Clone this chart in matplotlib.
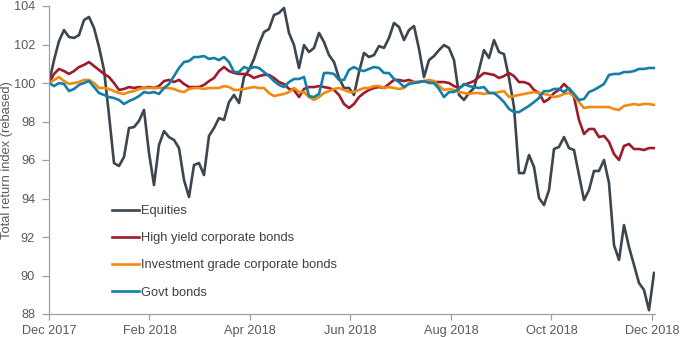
import numpy as np
import matplotlib
matplotlib.use("Agg")
import matplotlib.pyplot as plt

plt.rcParams['font.family'] = ['Liberation Sans', 'DejaVu Sans']

# total return index, rebased to 100 (Dec 2017 - Dec 2018)
equities = [100.0, 101.19, 102.18, 102.75, 102.39, 102.34, 102.49, 103.27, 103.43, 102.86,
            101.87, 100.68, 98.34, 95.84, 95.69, 96.16, 97.66, 97.71, 98.03, 98.60,
            96.36, 94.70, 96.78, 97.50, 97.19, 97.04, 96.62, 94.96, 94.08, 95.74,
            95.84, 95.22, 97.25, 97.66, 98.18, 98.08, 99.01, 99.38, 98.96, 100.31,
            100.68, 101.25, 102.03, 102.65, 102.80, 103.53, 103.64, 103.90, 102.60, 101.97,
            100.78, 101.97, 101.61, 101.82, 102.60, 102.13, 101.45, 101.09, 100.26, 99.74,
            99.74, 99.38, 100.57, 101.56, 101.35, 101.45, 101.92, 101.82, 102.34, 103.12,
            102.91, 102.23, 102.75, 102.96, 101.77, 100.31, 101.19, 101.40, 101.71, 101.97,
            101.82, 101.19, 99.38, 99.12, 99.48, 99.74, 100.68, 101.71, 101.30, 102.23,
            101.61, 101.50, 100.26, 98.75, 95.32, 95.32, 96.26, 95.64, 94.03, 93.66,
            94.44, 96.57, 96.68, 97.19, 96.62, 96.52, 95.22, 93.92, 94.44, 95.43,
            95.43, 96.00, 94.81, 91.58, 90.81, 92.62, 91.48, 90.55, 89.61, 89.25,
            88.20, 90.13]

high_yield = [100.0, 100.47, 100.73, 100.62, 100.47, 100.62, 100.83, 100.94, 101.09, 100.88,
              100.68, 100.47, 100.31, 100.00, 99.64, 99.69, 99.79, 99.74, 99.79, 99.74,
              99.79, 99.74, 99.84, 100.10, 100.16, 100.05, 100.16, 99.95, 99.79, 99.79,
              99.79, 99.90, 100.10, 100.26, 100.62, 100.83, 100.62, 100.52, 100.47, 100.47,
              100.42, 100.26, 100.36, 100.42, 100.42, 100.26, 100.05, 99.95, 99.69, 99.64,
              99.27, 99.69, 99.79, 99.79, 99.84, 99.79, 99.74, 99.64, 99.38, 98.91,
              98.70, 98.91, 99.27, 99.48, 99.64, 99.74, 99.79, 99.74, 99.95, 100.16,
              100.16, 100.10, 100.16, 100.05, 100.05, 100.10, 100.05, 100.05, 100.05, 100.05,
              100.00, 99.84, 99.74, 99.90, 100.00, 100.10, 100.31, 100.52, 100.47, 100.42,
              100.26, 100.36, 100.52, 100.36, 100.05, 100.05, 99.95, 99.64, 99.48, 99.01,
              99.17, 99.48, 99.64, 99.95, 99.69, 99.27, 98.08, 97.35, 97.61, 97.61,
              97.19, 97.25, 96.94, 96.31, 96.00, 96.73, 96.83, 96.57, 96.57, 96.52,
              96.62, 96.62]

inv_grade = [100.0, 100.16, 100.31, 100.10, 99.95, 100.00, 100.05, 100.16, 100.16, 100.00,
             99.74, 99.74, 99.69, 99.58, 99.48, 99.43, 99.53, 99.58, 99.69, 99.74,
             99.74, 99.74, 99.74, 99.74, 99.74, 99.69, 99.58, 99.53, 99.69, 99.74,
             99.74, 99.69, 99.74, 99.74, 99.74, 99.84, 99.79, 99.64, 99.64, 99.69,
             99.74, 99.79, 99.74, 99.74, 99.48, 99.32, 99.38, 99.43, 99.53, 99.74,
             99.53, 99.53, 99.27, 99.12, 99.27, 99.48, 99.58, 99.69, 99.74, 99.64,
             99.53, 99.53, 99.64, 99.74, 99.74, 99.84, 99.84, 99.74, 99.79, 99.74,
             99.69, 99.74, 100.00, 100.05, 100.05, 100.10, 100.16, 100.10, 99.84, 99.64,
             99.69, 99.64, 99.53, 99.48, 99.43, 99.48, 99.48, 99.43, 99.48, 99.48,
             99.53, 99.58, 99.27, 99.32, 99.38, 99.43, 99.48, 99.53, 99.48, 99.43,
             99.38, 99.27, 99.32, 99.43, 99.48, 99.32, 99.01, 98.70, 98.75, 98.75,
             98.75, 98.75, 98.75, 98.65, 98.60, 98.81, 98.86, 98.91, 98.86, 98.91,
             98.91, 98.86]

govt = [100.0, 99.84, 100.00, 99.95, 99.58, 99.69, 99.90, 100.00, 100.10, 99.79,
        99.48, 99.38, 99.27, 99.22, 99.12, 98.91, 99.06, 99.17, 99.32, 99.53,
        99.48, 99.53, 99.43, 99.74, 99.95, 100.36, 100.78, 101.09, 101.14, 101.35,
        101.35, 101.40, 101.25, 101.30, 101.19, 101.35, 101.09, 100.57, 100.57, 100.83,
        100.73, 100.83, 100.78, 100.57, 100.36, 100.10, 99.90, 99.79, 100.05, 100.21,
        100.21, 100.31, 99.32, 99.27, 99.43, 100.52, 100.52, 100.47, 100.16, 100.16,
        100.68, 100.83, 100.68, 100.62, 100.73, 100.83, 100.78, 100.52, 100.52, 100.21,
        100.05, 99.79, 99.95, 100.00, 100.05, 100.10, 100.00, 100.00, 99.69, 99.27,
        99.53, 99.53, 99.69, 99.95, 99.84, 99.79, 99.74, 99.79, 99.48, 99.48,
        99.27, 99.01, 98.65, 98.49, 98.49, 98.65, 98.81, 99.01, 99.22, 99.58,
        99.58, 99.69, 99.69, 99.53, 99.74, 99.43, 99.12, 99.17, 99.53, 99.64,
        99.79, 99.95, 100.42, 100.47, 100.47, 100.57, 100.57, 100.62, 100.73, 100.73,
        100.78, 100.78]

labels = ['Equities', 'High yield corporate bonds',
          'Investment grade corporate bonds', 'Govt bonds']
colors = ['#3b4650', '#9e1b2a', '#f18a0e', '#137fa8']
tick_labels = ['Dec 2017', 'Feb 2018', 'Apr 2018', 'Jun 2018',
               'Aug 2018', 'Oct 2018', 'Dec 2018']

# months since start of Dec 2017
x = np.linspace(0, 12.04, len(equities))

fig = plt.figure(figsize=(6.8, 3.37), dpi=100)
ax = fig.add_axes([49/680, 1 - 314/337, 606/680, 308/337])

for s, lab, c in zip([equities, high_yield, inv_grade, govt], labels, colors):
    ax.plot(x, s, color=c, lw=1.9, label=lab, solid_joinstyle='round')

ax.set_xlim(0, 12.06)
ax.set_ylim(88, 104)
ax.set_yticks(np.arange(88, 105, 2))
ax.set_xticks(np.arange(0, 13, 2))
ax.set_xticklabels(tick_labels)

for sp in ['top', 'right']:
    ax.spines[sp].set_visible(False)
for sp in ['left', 'bottom']:
    ax.spines[sp].set_color('#a0a0a0')
    ax.spines[sp].set_linewidth(0.9)
ax.tick_params(axis='both', colors='#a0a0a0', labelcolor='#595959',
               labelsize=9.2, width=0.9, direction='out')
ax.tick_params(axis='x', length=4, pad=4)
ax.tick_params(axis='y', length=5, pad=5)

ax.set_ylabel('Total return index (rebased)', fontsize=9.3, color='#595959')
ax.yaxis.set_label_coords((13.5 - 49) / 606, 0.5)

ax.legend(loc='upper left', bbox_to_anchor=(112/680, 1 - 205/337),
          bbox_transform=fig.transFigure, frameon=False, fontsize=9.3,
          handlelength=2.1, handletextpad=0.15, labelspacing=1.17,
          borderpad=0, borderaxespad=0, labelcolor='#404040')

fig.savefig('out.png', dpi=100)
